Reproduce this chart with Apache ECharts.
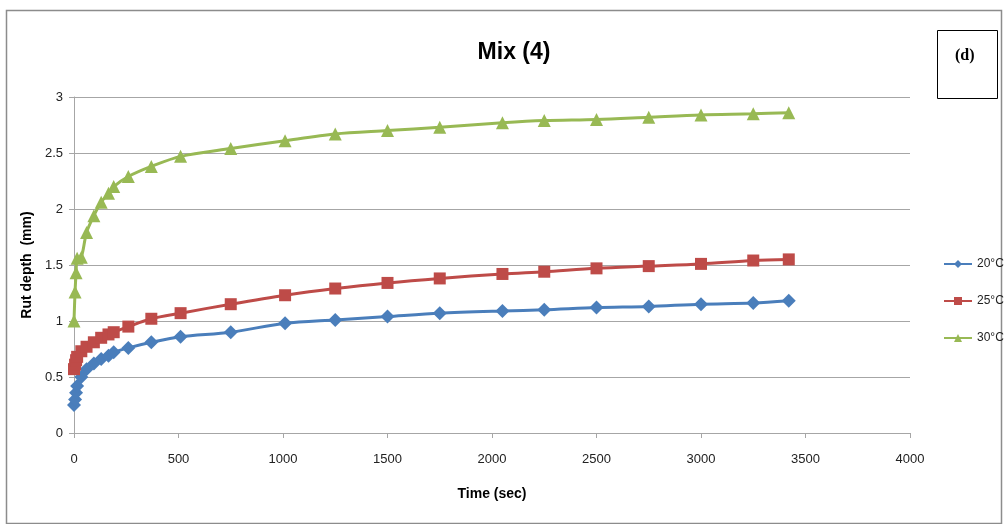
<!DOCTYPE html>
<html>
<head>
<meta charset="utf-8">
<script src="https://cdn.jsdelivr.net/npm/echarts@6/dist/echarts.min.js"></script>
<style>
html,body{margin:0;padding:0;background:#fff;}
#c{width:1005px;height:524px;}
</style>
</head>
<body>
<div id="c"></div>
<script>
const times = [0, 5, 10, 15, 35, 60, 95, 130, 165, 190, 260, 370, 510, 750, 1010, 1250, 1500, 1750, 2050, 2250, 2500, 2750, 3000, 3250, 3420];
const rut20 = [0.25, 0.30, 0.36, 0.42, 0.50, 0.57, 0.62, 0.66, 0.69, 0.72, 0.76, 0.81, 0.86, 0.90, 0.98, 1.01, 1.04, 1.07, 1.09, 1.10, 1.12, 1.13, 1.15, 1.16, 1.18];
const rut25 = [0.57, 0.61, 0.65, 0.68, 0.73, 0.77, 0.81, 0.85, 0.88, 0.90, 0.95, 1.02, 1.07, 1.15, 1.23, 1.29, 1.34, 1.38, 1.42, 1.44, 1.47, 1.49, 1.51, 1.54, 1.55];
const rut30 = [1.00, 1.26, 1.43, 1.56, 1.57, 1.79, 1.94, 2.06, 2.14, 2.20, 2.29, 2.38, 2.47, 2.54, 2.61, 2.67, 2.70, 2.73, 2.77, 2.79, 2.80, 2.82, 2.84, 2.85, 2.86];
const seriesNames = ['20°C', '25°C', '30°C'];
const colors = ['#4a7ebb', '#be4b48', '#98b954'];
const symbols = ['diamond', 'rect', 'triangle'];
const symbolSizes = [14, 12, 13];
const allValues = [rut20, rut25, rut30];

const font = '"Liberation Sans", sans-serif';
const chart = echarts.init(document.getElementById('c'), null, {renderer: 'canvas'});

const series = allValues.map((vals, i) => ({
  name: seriesNames[i],
  type: 'line',
  data: times.map((t, k) => [t, vals[k]]),
  symbol: symbols[i],
  symbolSize: symbolSizes[i],
  showAllSymbol: true,
  smooth: 0.3,
  lineStyle: {color: colors[i], width: 3},
  itemStyle: {color: colors[i]},
  emphasis: {disabled: true},
  z: 3 + i
}));

chart.setOption({
  animation: false,
  backgroundColor: '#fff',
  title: {
    text: 'Mix (4)',
    left: 509, top: 36, textAlign: 'center',
    textStyle: {fontFamily: font, fontSize: 23, fontWeight: 'bold', color: '#000'}
  },
  grid: {left: 74, right: 95, top: 97, bottom: 91, containLabel: false},
  legend: {
    orient: 'vertical', left: 938, top: 253,
    itemWidth: 28, itemHeight: 10, itemGap: 25,
    textStyle: {fontFamily: font, fontSize: 12, color: '#222'},
    data: seriesNames
  },
  xAxis: {
    type: 'value', min: 0, max: 4000, interval: 500,
    name: 'Time (sec)', nameLocation: 'middle', nameGap: 54,
    nameTextStyle: {fontFamily: font, fontSize: 14, fontWeight: 'bold', color: '#000'},
    axisLine: {lineStyle: {color: '#a6a6a6', width: 1}},
    axisTick: {show: true, length: 5, lineStyle: {color: '#a6a6a6'}},
    axisLabel: {fontFamily: font, fontSize: 13, color: '#222', margin: 20,
      formatter: v => String(v)},
    splitLine: {show: false}
  },
  yAxis: {
    type: 'value', min: 0, max: 3, interval: 0.5,
    name: 'Rut depth  (mm)', nameLocation: 'middle', nameGap: 37, nameRotate: 90,
    nameTextStyle: {fontFamily: font, fontSize: 14, fontWeight: 'bold', color: '#000'},
    axisLine: {show: true, lineStyle: {color: '#a6a6a6', width: 1}},
    axisTick: {show: true, length: 5, lineStyle: {color: '#a6a6a6'}},
    axisLabel: {fontFamily: font, fontSize: 13, color: '#222', margin: 11},
    splitLine: {show: true, lineStyle: {color: '#a6a6a6', width: 1}}
  },
  graphic: [
    {type: 'rect', left: 4, top: 8, shape: {width: 995, height: 513},
     style: {fill: 'none', stroke: '#8c8c8c', lineWidth: 1.5}, silent: true},
    {type: 'rect', left: 937, top: 30, shape: {width: 60, height: 68},
     style: {fill: '#fff', stroke: '#000', lineWidth: 1}, silent: true},
    {type: 'text', left: 955, top: 48,
     style: {text: '(d)', fontFamily: '"Liberation Serif", serif', fontSize: 16, fontWeight: 'bold', fill: '#000'}, silent: true}
  ],
  series: series
});
</script>
</body>
</html>
